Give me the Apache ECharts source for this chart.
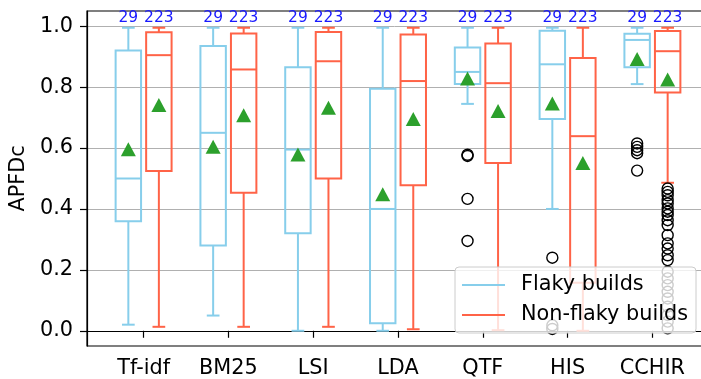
<!DOCTYPE html>
<html>
<head>
<meta charset="utf-8">
<script src="https://cdn.jsdelivr.net/npm/echarts@6/dist/echarts.min.js"></script>
<style>html,body{margin:0;padding:0;background:#fff}#c{width:701px;height:379px}</style>
</head>
<body>
<div id="c"></div>
<script>
// ---- data ----
const categories = ['Tf-idf', 'BM25', 'LSI', 'LDA', 'QTF', 'HIS', 'CCHIR'];
// [lowerWhisker, q1, median, q3, upperWhisker]
const flakyBox = [
  [0.02, 0.36, 0.50, 0.92, 0.995],
  [0.05, 0.28, 0.65, 0.935, 0.995],
  [0.0, 0.32, 0.595, 0.865, 0.995],
  [0.0, 0.025, 0.40, 0.795, 0.995],
  [0.745, 0.81, 0.85, 0.93, 0.995],
  [0.40, 0.695, 0.875, 0.985, 0.995],
  [0.81, 0.865, 0.955, 0.975, 0.995]
];
const nonFlakyBox = [
  [0.013, 0.525, 0.905, 0.98, 0.995],
  [0.013, 0.453, 0.858, 0.976, 0.995],
  [0.013, 0.50, 0.885, 0.981, 0.995],
  [0.005, 0.478, 0.82, 0.973, 0.995],
  [0.002, 0.551, 0.813, 0.943, 0.995],
  [0.0, 0.158, 0.639, 0.896, 0.995],
  [0.486, 0.782, 0.918, 0.984, 0.995]
];
const flakyMean = [0.596, 0.604, 0.579, 0.448, 0.828, 0.746, 0.892];
const nonFlakyMean = [0.741, 0.708, 0.732, 0.695, 0.722, 0.551, 0.825];
// outliers: [categoryIndex, value]
const flakyOutliers = [
  [4, 0.578], [4, 0.574], [4, 0.433], [4, 0.295],
  [5, 0.24], [5, 0.018], [5, 0.006],
  [6, 0.615], [6, 0.604], [6, 0.593], [6, 0.583], [6, 0.526]
];
const nonFlakyOutliers = [
  [6, 0.467], [6, 0.456], [6, 0.445], [6, 0.429], [6, 0.418], [6, 0.402],
  [6, 0.391], [6, 0.38], [6, 0.363], [6, 0.347], [6, 0.314], [6, 0.287],
  [6, 0.27], [6, 0.248], [6, 0.232], [6, 0.194], [6, 0.172], [6, 0.15],
  [6, 0.128], [6, 0.106], [6, 0.079], [6, 0.052], [6, 0.03], [6, 0.008]
];
const flakyCount = 29;
const nonFlakyCount = 223;
const yTicks = [0, 0.2, 0.4, 0.6, 0.8, 1.0];

// ---- styling / layout ----
const FONT = 'DejaVu Sans';
const FS = 20.8;
const C_FLAKY = '#87CEEB';
const C_NON = '#FF6347';
const OFFSET = 0.18;
const BOXW = 0.30;

function boxData(arr, off, count) {
  return arr.map((b, i) => [i + 1 + off].concat(b).concat([count]));
}

function renderBox(color) {
  return function (params, api) {
    const x = api.value(0);
    const lo = api.coord([x, api.value(1)]);
    const q1 = api.coord([x, api.value(2)]);
    const md = api.coord([x, api.value(3)]);
    const q3 = api.coord([x, api.value(4)]);
    const hi = api.coord([x, api.value(5)]);
    const top = api.coord([x, 1.0]);
    const hw = api.size([BOXW, 0])[0] / 2;
    const cw = hw / 2;
    const cx = lo[0];
    const st = { stroke: color, lineWidth: 2, fill: null };
    return {
      type: 'group',
      children: [
        { type: 'line', shape: { x1: cx, y1: q1[1], x2: cx, y2: lo[1] }, style: st },
        { type: 'line', shape: { x1: cx, y1: q3[1], x2: cx, y2: hi[1] }, style: st },
        { type: 'line', shape: { x1: cx - cw, y1: lo[1], x2: cx + cw, y2: lo[1] }, style: st },
        { type: 'line', shape: { x1: cx - cw, y1: hi[1], x2: cx + cw, y2: hi[1] }, style: st },
        { type: 'rect', shape: { x: cx - hw, y: q3[1], width: 2 * hw, height: q1[1] - q3[1] }, style: { stroke: color, lineWidth: 2, fill: 'rgba(0,0,0,0)' } },
        { type: 'line', shape: { x1: cx - hw, y1: md[1], x2: cx + hw, y2: md[1] }, style: st },
        { type: 'text', style: { x: cx, y: top[1] - 8, text: String(api.value(6)), fill: '#1a1aff', font: '15.5px "' + FONT + '"', align: 'center', verticalAlign: 'middle' } }
      ]
    };
  };
}

const chart = echarts.init(document.getElementById('c'), null, { renderer: 'canvas' });
chart.setOption({
  animation: false,
  backgroundColor: '#fff',
  textStyle: { fontFamily: FONT },
  grid: { left: 87, top: 11, width: 622, height: 335, outerBoundsMode: 'none', containLabel: false, show: true, borderColor: '#000', borderWidth: 1.2, backgroundColor: 'transparent' },
  xAxis: {
    type: 'value', min: 0.3325, max: 7.6675,
    axisLine: { show: true, lineStyle: { color: '#000', width: 1.2 } },
    axisTick: { show: true, length: 7, lineStyle: { color: '#000', width: 1.2 }, customValues: [1, 2, 3, 4, 5, 6, 7] },
    axisLabel: { customValues: [1, 2, 3, 4, 5, 6, 7], formatter: v => categories[Math.round(v) - 1] || '', color: '#000', fontSize: FS, fontFamily: FONT, margin: 12 },
    splitLine: { show: false }
  },
  yAxis: {
    type: 'value', min: -0.05, max: 1.05,
    name: 'APFDc', nameLocation: 'middle', nameGap: 54,
    nameTextStyle: { color: '#000', fontSize: FS, fontFamily: FONT },
    axisLine: { show: true, lineStyle: { color: '#000', width: 1.2 } },
    axisTick: { show: true, length: 7, lineStyle: { color: '#000', width: 1.2 }, customValues: yTicks },
    axisLabel: { customValues: yTicks, formatter: v => v.toFixed(1), color: '#000', fontSize: FS, fontFamily: FONT, margin: 14 },
    splitLine: { show: true, lineStyle: { color: '#b0b0b0', width: 1 } }
  },
  legend: {
    orient: 'vertical', left: 455, top: 267,
    data: [
      { name: 'Flaky builds', icon: 'rect', itemStyle: { color: C_FLAKY } },
      { name: 'Non-flaky builds', icon: 'rect', itemStyle: { color: C_NON } }
    ],
    itemWidth: 43, itemHeight: 2.2, itemGap: 6,
    padding: [6, 8, 6, 7],
    backgroundColor: 'rgba(255,255,255,0.8)',
    borderColor: '#cccccc', borderWidth: 1, borderRadius: 4,
    textStyle: { fontSize: FS, fontFamily: FONT, color: '#000', lineHeight: 24, padding: [0, 0, 0, 11] },
    selectedMode: false
  },
  series: [
    { name: 'Flaky builds', type: 'custom', itemStyle: { color: C_FLAKY }, renderItem: renderBox(C_FLAKY), data: boxData(flakyBox, -OFFSET, flakyCount), z: 2 },
    { name: 'Non-flaky builds', type: 'custom', itemStyle: { color: C_NON }, renderItem: renderBox(C_NON), data: boxData(nonFlakyBox, OFFSET, nonFlakyCount), z: 2 },
    { name: 'outF', type: 'scatter', symbol: 'circle', symbolSize: 11, itemStyle: { color: 'rgba(0,0,0,0)', borderColor: '#000', borderWidth: 1.4, opacity: 1 }, data: flakyOutliers.map(d => [d[0] + 1 - OFFSET, d[1]]), z: 3 },
    { name: 'outN', type: 'scatter', symbol: 'circle', symbolSize: 11, itemStyle: { color: 'rgba(0,0,0,0)', borderColor: '#000', borderWidth: 1.4, opacity: 1 }, data: nonFlakyOutliers.map(d => [d[0] + 1 + OFFSET, d[1]]), z: 3 },
    { name: 'meanF', type: 'scatter', symbol: 'triangle', symbolSize: [15, 14], itemStyle: { color: '#2ca02c', opacity: 1 }, data: flakyMean.map((m, i) => [i + 1 - OFFSET, m]), z: 4 },
    { name: 'meanN', type: 'scatter', symbol: 'triangle', symbolSize: [15, 14], itemStyle: { color: '#2ca02c', opacity: 1 }, data: nonFlakyMean.map((m, i) => [i + 1 + OFFSET, m]), z: 4 }
  ]
});
</script>
</body>
</html>
